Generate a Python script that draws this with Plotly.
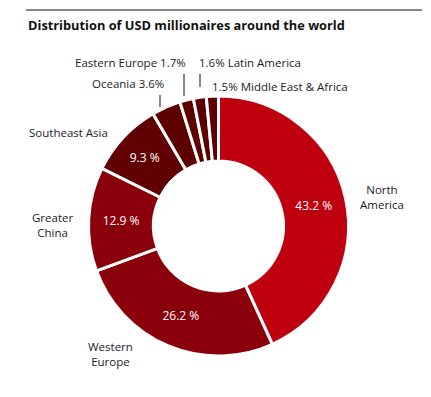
import plotly.graph_objects as go

# page has an 8px body margin; work in page pixel coordinates
OFF = 8
W, H = 431 - OFF, 397 - OFF

regions = ["North America", "Western Europe", "Greater China", "Southeast Asia",
           "Oceania", "Eastern Europe", "Latin America", "Middle East & Africa"]
shares = [43.2, 26.2, 12.9, 9.3, 3.6, 1.7, 1.6, 1.5]
colors = ["#be000f", "#8a000b", "#8a000b", "#600004",
          "#5c0000", "#5c0000", "#5c0000", "#5c0000"]
inside = [True, True, True, True, False, False, False, False]

# outside label texts (layout positions in page pixels)
outside_labels = [
    ("North<br>America", 382, 197, "center"),
    ("Greater<br>China", 52, 225, "center"),
    ("Southeast Asia", 68, 132, "center"),
    ("Western<br>Europe", 110, 354, "center"),
    ("Oceania 3.6%", 128, 84, "center"),
    ("Eastern Europe 1.7%", 131, 63, "center"),
    ("1.6% Latin America", 250, 63, "center"),
    ("1.5% Middle East &amp; Africa", 280, 86, "center"),
]
leaders = [(160, 95, 160, 107), (184, 74, 184, 96), (200, 74, 200, 87)]

def px(x):
    return (x - OFF) / W

def py(y):
    return 1 - (y - OFF) / H

FONT = "Open Sans"

texts = [f"{v:.1f} %" if show else "" for v, show in zip(shares, inside)]
positions = ["inside" if show else "none" for show in inside]

cx, cy, r = 218.5, 226, 130
fig = go.Figure(go.Pie(
    labels=regions, values=shares, sort=False, direction="clockwise", rotation=0,
    hole=0.5,
    marker=dict(colors=colors, line=dict(color="white", width=3)),
    text=texts, textinfo="text", textposition=positions,
    insidetextorientation="horizontal",
    insidetextfont=dict(color="white", size=12, family=FONT),
    domain=dict(x=[px(cx - r), px(cx + r)], y=[py(cy + r), py(cy - r)]),
    showlegend=False, hoverinfo="label+value",
))

annotations = [dict(text="<b>Distribution of USD millionaires around the world</b>",
                    x=px(26), y=py(25), xref="paper", yref="paper",
                    xanchor="left", yanchor="middle", showarrow=False,
                    font=dict(size=12.8, color="#111111", family=FONT))]
for t, x, y, a in outside_labels:
    annotations.append(dict(text=t, x=px(x), y=py(y), xref="paper", yref="paper",
                            xanchor=a, yanchor="middle", showarrow=False, align="center",
                            font=dict(size=11.5, color="#1a1a2a", family=FONT)))

shapes = [dict(type="line", xref="paper", yref="paper", x0=px(26), x1=px(422),
               y0=py(10), y1=py(10), line=dict(color="#111111", width=1))]
for x0, y0, x1, y1 in leaders:
    shapes.append(dict(type="line", xref="paper", yref="paper", x0=px(x0), x1=px(x1),
                       y0=py(y0), y1=py(y1), line=dict(color="#111111", width=1)))

fig.update_layout(width=W, height=H, margin=dict(l=0, r=0, t=0, b=0),
                  paper_bgcolor="white", plot_bgcolor="white",
                  annotations=annotations, shapes=shapes)
fig.write_html("out.html")
